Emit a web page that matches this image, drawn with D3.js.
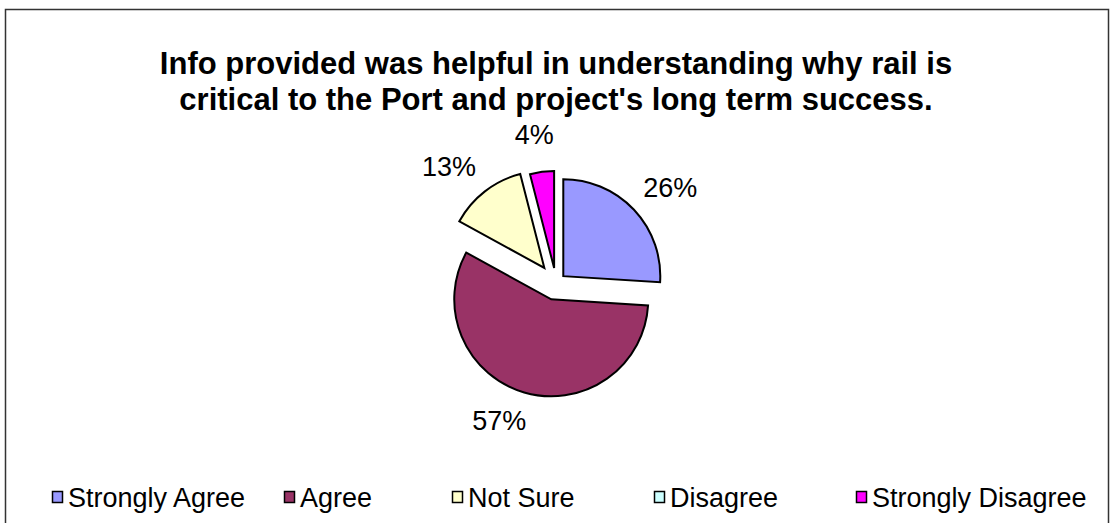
<!DOCTYPE html>
<html>
  <head>
    <meta charset="UTF-8" />
    <style>
      body {
        margin: 0;
        background: #fff;
        font-family: "Liberation Sans", Arial, sans-serif;
      }
    </style>
  </head>
  <body>
    <svg></svg>
    <script src="https://d3js.org/d3.v7.min.js"></script>
    <script>
      // data
      const categories = ["Strongly Agree", "Agree", "Not Sure", "Disagree", "Strongly Disagree"];
      const percents = [26, 57, 13, 0, 4];
      const colours = ["#9999ff", "#993366", "#ffffcc", "#ccffff", "#ff00ff"];
      const titleLines = [
        "Info provided was helpful in understanding why rail is",
        "critical to the Port and project's long term success.",
      ];

      // layout
      let width = 1114,
        height = 523;
      const cx = 556,
        cy = 283,
        radius = 97;
      const explode = [10, 17, 19, 0, 15];
      const labelNudge = [[5, 7], [-15, -7], [-15, 2], [0, 0], [-3, 0]];
      const legendX = [52, 284, 452, 654, 856];

      let svg = d3
        .select("svg")
        .attr("width", width)
        .attr("height", height);

      // frame
      svg
        .append("rect")
        .attr("x", 5.5)
        .attr("y", 9.5)
        .attr("width", 1103)
        .attr("height", 540)
        .attr("fill", "none")
        .attr("stroke", "#333")
        .attr("stroke-width", 1.5);

      // title
      svg
        .append("g")
        .selectAll("text")
        .data(titleLines)
        .enter()
        .append("text")
        .attr("x", cx)
        .attr("y", (d, i) => 74 + i * 36)
        .attr("text-anchor", "middle")
        .style("font-size", "31px")
        .style("font-weight", "bold")
        .text((d) => d);

      let pie = d3.pie().sort(null).value((d) => d);
      let arcs = pie(percents);
      let arc = d3.arc().innerRadius(0).outerRadius(radius);
      let labelArc = d3.arc().innerRadius(150).outerRadius(150);

      let pieG = svg.append("g").attr("transform", "translate(" + cx + "," + cy + ")");

      // slices
      pieG
        .selectAll("path")
        .data(arcs)
        .enter()
        .filter((d) => d.value > 0)
        .append("path")
        .attr("d", arc)
        .attr("transform", (d) => {
          let a = (d.startAngle + d.endAngle) / 2;
          let e = explode[d.index];
          return "translate(" + e * Math.sin(a) + "," + -e * Math.cos(a) + ")";
        })
        .attr("fill", (d) => colours[d.index])
        .attr("stroke", "#000")
        .attr("stroke-width", 2)
        .attr("stroke-linejoin", "miter");

      // percent labels
      pieG
        .selectAll("text")
        .data(arcs.filter((d) => d.value > 0))
        .enter()
        .append("text")
        .attr("x", (d) => labelArc.centroid(d)[0] + labelNudge[d.index][0])
        .attr("y", (d) => labelArc.centroid(d)[1] + labelNudge[d.index][1])
        .attr("dy", "0.36em")
        .attr("text-anchor", "middle")
        .style("font-size", "27px")
        .text((d) => d.value + "%");

      // legend
      let legend = svg
        .append("g")
        .selectAll("g")
        .data(categories)
        .enter()
        .append("g")
        .attr("transform", (d, i) => "translate(" + legendX[i] + ",497)");

      legend
        .append("rect")
        .attr("x", 0.5)
        .attr("y", -5.5)
        .attr("width", 10)
        .attr("height", 11)
        .attr("fill", (d, i) => colours[i])
        .attr("stroke", "#000")
        .attr("stroke-width", 1.5);

      legend
        .append("text")
        .attr("x", 16)
        .attr("dy", "0.36em")
        .style("font-size", "27px")
        .text((d) => d);
    </script>
  </body>
</html>
